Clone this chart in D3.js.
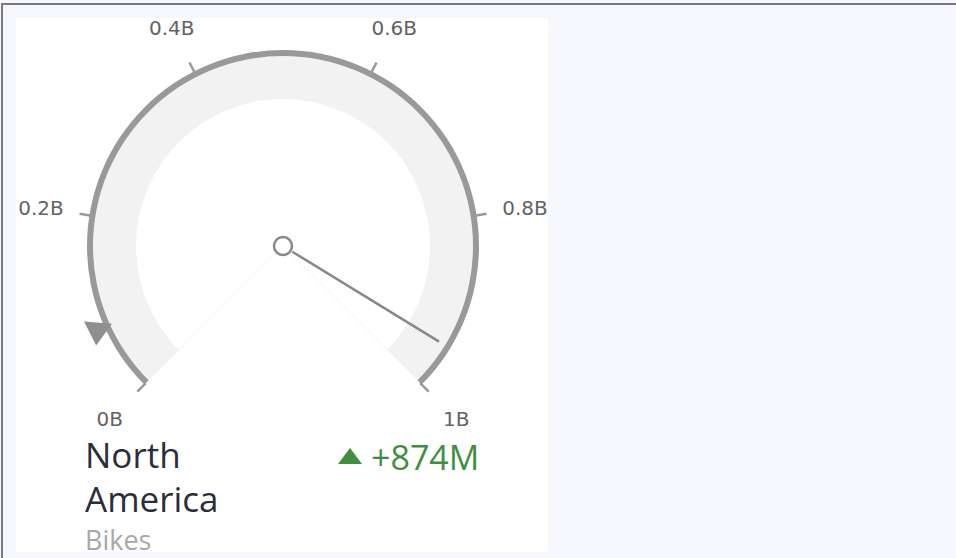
<!DOCTYPE html>
<html>
<head>
<meta charset="utf-8">
<script src="https://cdn.jsdelivr.net/npm/d3@7"></script>
<style>
  html, body { margin: 0; padding: 0; background: #f7f7fe; }
  svg { display: block; }
</style>
</head>
<body>
<svg id="chart" width="956" height="558"></svg>
<script>
// Gauge data
const domainMax = 1e9;
const tickValues = [0, 2e8, 4e8, 6e8, 8e8, 1e9];
const tickLabels = ["0B", "0.2B", "0.4B", "0.6B", "0.8B", "1B"];
const actualValue = 950e6;
const targetValue = 76e6;
const titleLines = ["North", "America"];
const subtitle = "Bikes";

const W = 956, H = 558;
const svg = d3.select("#chart");

svg.append("rect").attr("width", W).attr("height", H).attr("fill", "#f7f7fe");
// outer frame (top and left edges)
svg.append("path")
  .attr("d", `M2,${H} V4 H${W}`)
  .attr("fill", "none")
  .attr("stroke", "#7a7a7a")
  .attr("stroke-width", 2);

// white card holding the gauge
const card = { x: 16, y: 18, w: 532, h: 534 };
svg.append("clipPath").attr("id", "cardClip")
  .append("rect").attr("x", card.x).attr("y", card.y).attr("width", card.w).attr("height", card.h);
const g = svg.append("g").attr("clip-path", "url(#cardClip)");
g.append("rect").attr("x", card.x).attr("y", card.y).attr("width", card.w).attr("height", card.h).attr("fill", "#ffffff");

const cx = 283, cy = 246;
const rad = d => d * Math.PI / 180;
const angle = d3.scaleLinear().domain([0, domainMax]).range([rad(-135), rad(135)]);
const polar = (v, r) => [r * Math.sin(angle(v)), -r * Math.cos(angle(v))];

const gauge = g.append("g").attr("transform", `translate(${cx},${cy})`);

// light range band
gauge.append("path")
  .attr("d", d3.arc()({ innerRadius: 147, outerRadius: 190, startAngle: angle(0), endAngle: angle(domainMax) }))
  .attr("fill", "#f2f2f2");

// faint sector edges at both ends of the range
[0, domainMax].forEach(v => {
  const a = polar(v, 10), b = polar(v, 147);
  gauge.append("line")
    .attr("x1", a[0]).attr("y1", a[1]).attr("x2", b[0]).attr("y2", b[1])
    .attr("stroke", "#f4f4f4").attr("stroke-width", 1);
});

// scale arc
gauge.append("path")
  .attr("d", d3.arc()({ innerRadius: 190, outerRadius: 196, startAngle: angle(0), endAngle: angle(domainMax) }))
  .attr("fill", "#999999");

// ticks
gauge.selectAll("line.tick").data(tickValues).join("line")
  .attr("class", "tick")
  .attr("x1", d => polar(d, 194)[0]).attr("y1", d => polar(d, 194)[1])
  .attr("x2", d => polar(d, 206)[0]).attr("y2", d => polar(d, 206)[1])
  .attr("stroke", "#999999").attr("stroke-width", 2.5);

// tick labels
gauge.selectAll("text.tlabel").data(tickValues).join("text")
  .attr("class", "tlabel")
  .attr("x", d => polar(d, 245)[0])
  .attr("y", d => polar(d, 245)[1])
  .attr("dy", "0.36em")
  .attr("text-anchor", "middle")
  .attr("font-family", "'DejaVu Sans', Verdana, sans-serif")
  .attr("font-size", 20)
  .attr("fill", "#636363")
  .text((d, i) => tickLabels[i]);

// target marker
const tp = polar(targetValue, 204);
gauge.append("path")
  .attr("transform", `translate(${tp[0]},${tp[1]}) rotate(${angle(targetValue) * 180 / Math.PI + 119})`)
  .attr("d", "M-14,-8 L14,-8 L0,15 Z")
  .attr("fill", "#8f8f8f");

// needle
const n0 = polar(actualValue, 11), n1 = polar(actualValue, 183);
gauge.append("line")
  .attr("x1", n0[0]).attr("y1", n0[1]).attr("x2", n1[0]).attr("y2", n1[1])
  .attr("stroke", "#888888").attr("stroke-width", 2.5);

// hub
gauge.append("circle").attr("r", 9)
  .attr("fill", "#ffffff").attr("stroke", "#888888").attr("stroke-width", 2.5);

// title and subtitle
const textFont = "'Segoe UI', 'Open Sans', sans-serif";
g.selectAll("text.title").data(titleLines).join("text")
  .attr("class", "title")
  .attr("x", 85)
  .attr("y", (d, i) => 468 + i * 44)
  .attr("font-family", textFont)
  .attr("font-size", 35)
  .attr("fill", "#2a2d3a")
  .text(d => d);

g.append("text")
  .attr("x", 85).attr("y", 550)
  .attr("font-family", textFont)
  .attr("font-size", 27)
  .attr("fill", "#a8a8a8")
  .text(subtitle);

// delta to target
const delta = actualValue - targetValue;
const deltaColor = delta >= 0 ? "#3f8f3f" : "#c0392b";
g.append("path")
  .attr("d", delta >= 0 ? "M338,464 L362,464 L350,448 Z" : "M338,448 L362,448 L350,464 Z")
  .attr("fill", deltaColor);
g.append("text")
  .attr("x", 371).attr("y", 470)
  .attr("font-family", textFont)
  .attr("font-size", 34)
  .attr("fill", deltaColor)
  .text(d3.format("+.3~s")(delta));
</script>
</body>
</html>
